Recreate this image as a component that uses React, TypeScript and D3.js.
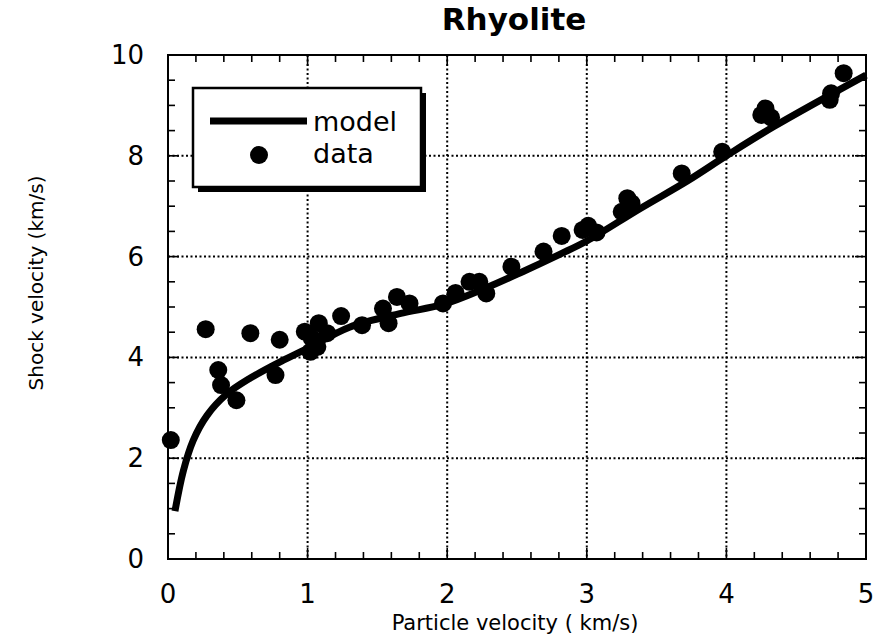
import React from 'react';
import * as d3 from 'd3';

// model curve
const modelX = [0.05, 0.11, 0.18, 0.28, 0.42, 0.59, 0.83, 1.0, 1.3, 1.66, 1.97, 2.28, 2.54, 2.81, 3.0, 3.38, 3.72, 4.0, 4.34, 5.0];
const modelY = [0.95, 1.75, 2.35, 2.85, 3.27, 3.59, 3.95, 4.18, 4.6, 4.87, 5.05, 5.38, 5.7, 6.05, 6.31, 6.95, 7.5, 8.0, 8.58, 9.6];

// measured points
const dataX = [0.02, 0.27, 0.59, 0.8, 0.36, 0.38, 0.49, 0.77, 0.98, 1.07, 1.02, 1.08, 1.14, 1.03, 1.24, 1.39, 1.54, 1.58, 1.64, 1.73,
  1.97, 2.06, 2.16, 2.23, 2.28, 2.46, 2.69, 2.82, 2.97, 3.01, 3.07, 3.25, 3.29, 3.32, 3.68, 3.97, 4.25, 4.28, 4.32, 4.74, 4.75, 4.84];
const dataY = [2.36, 4.56, 4.48, 4.35, 3.75, 3.45, 3.15, 3.65, 4.51, 4.21, 4.11, 4.68, 4.48, 4.38, 4.82, 4.64, 4.97, 4.68, 5.2, 5.07,
  5.07, 5.28, 5.5, 5.5, 5.27, 5.8, 6.1, 6.41, 6.53, 6.61, 6.48, 6.89, 7.16, 7.06, 7.65, 8.08, 8.81, 8.94, 8.76, 9.11, 9.24, 9.64];

const xTicks = [0, 1, 2, 3, 4, 5];
const yTicks = [0, 2, 4, 6, 8, 10];

const W = 876;
const H = 643;
const left = 168, right = 866, top = 55, bottom = 559;
const font = '"DejaVu Sans", sans-serif';

export default function App() {
  const x = d3.scaleLinear().domain([0, 5]).range([left, right]);
  const y = d3.scaleLinear().domain([0, 10]).range([bottom, top]);

  const xMinor = d3.range(0, 5.001, 0.2).map(v => +v.toFixed(2));
  const yMinor = d3.range(0, 10.001, 0.5).map(v => +v.toFixed(2));

  const line = d3.line<number>()
    .x((d, i) => x(modelX[i]))
    .y(d => y(d))
    .curve(d3.curveCatmullRom.alpha(0.5));

  return (
    <svg width={W} height={H} style={{ position: 'absolute', left: 0, top: 0, background: '#fff' }}
      fontFamily={font}>
      {/* grid */}
      {xTicks.slice(1, -1).map(t => (
        <line key={'gx' + t} x1={x(t)} x2={x(t)} y1={top} y2={bottom}
          stroke="#000" strokeWidth={2} strokeDasharray="2,2.5" />
      ))}
      {yTicks.slice(1, -1).map(t => (
        <line key={'gy' + t} x1={left} x2={right} y1={y(t)} y2={y(t)}
          stroke="#000" strokeWidth={2} strokeDasharray="2,2.5" />
      ))}

      {/* minor + major ticks on all four sides */}
      {xMinor.map(t => {
        const len = Number.isInteger(t) ? 11 : 7;
        return (
          <g key={'tx' + t} stroke="#000" strokeWidth={1.6}>
            <line x1={x(t)} x2={x(t)} y1={bottom} y2={bottom - len} />
            <line x1={x(t)} x2={x(t)} y1={top} y2={top + len} />
          </g>
        );
      })}
      {yMinor.map(t => {
        const len = Number.isInteger(t) && t % 2 === 0 ? 11 : 7;
        return (
          <g key={'ty' + t} stroke="#000" strokeWidth={1.6}>
            <line x1={left} x2={left + len} y1={y(t)} y2={y(t)} />
            <line x1={right} x2={right - len} y1={y(t)} y2={y(t)} />
          </g>
        );
      })}

      <rect x={left} y={top} width={right - left} height={bottom - top}
        fill="none" stroke="#000" strokeWidth={2} />

      {/* model */}
      <path d={line(modelY) || ''} fill="none" stroke="#000" strokeWidth={7} strokeLinejoin="round" />

      {/* data */}
      {dataX.map((dx, i) => (
        <circle key={'d' + i} cx={x(dx)} cy={y(dataY[i])} r={9} fill="#000" />
      ))}

      {/* legend */}
      <rect x={198} y={93} width={228} height={99} fill="#000" />
      <rect x={193} y={88} width={228} height={99} fill="#fff" stroke="#000" strokeWidth={2.5} />
      <line x1={210} x2={307} y1={121} y2={121} stroke="#000" strokeWidth={7} />
      <text x={313} y={131} fontSize={27}>model</text>
      <circle cx={259} cy={155} r={9} fill="#000" />
      <text x={313} y={163} fontSize={27}>data</text>

      {/* tick labels */}
      {xTicks.map(t => (
        <text key={'lx' + t} x={x(t)} y={603} fontSize={26} textAnchor="middle">{t}</text>
      ))}
      {yTicks.map(t => (
        <text key={'ly' + t} x={144} y={y(t) + 9} fontSize={26} textAnchor="end">{t}</text>
      ))}

      {/* titles */}
      <text x={514} y={30} fontSize={31} fontWeight="bold" textAnchor="middle">Rhyolite</text>
      <text x={515} y={630} fontSize={21} textAnchor="middle">Particle velocity ( km/s)</text>
      <text transform="translate(43,283) rotate(-90)" fontSize={20} textAnchor="middle">Shock velocity (km/s)</text>
    </svg>
  );
}
